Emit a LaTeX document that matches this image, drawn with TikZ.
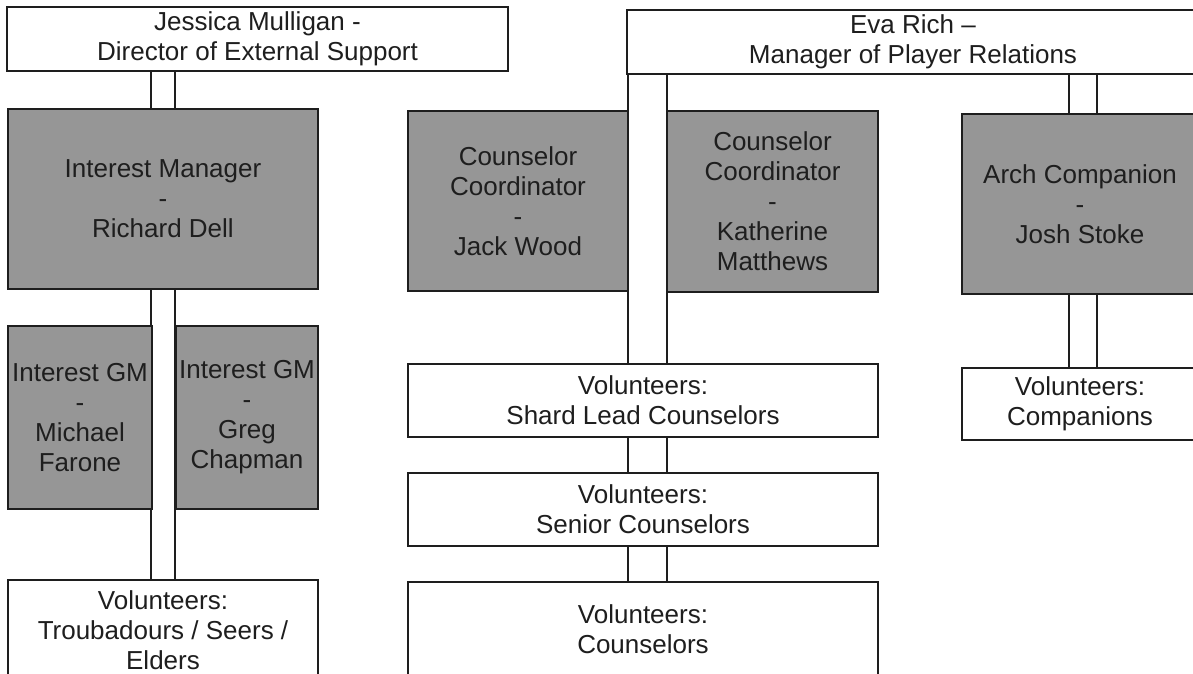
\documentclass[tikz,border=0pt]{standalone}
\usepackage{fontspec}
\setmainfont{Liberation Sans}
\usetikzlibrary{backgrounds,calc}
\definecolor{boxgray}{RGB}{150,150,150}
\definecolor{inkcol}{RGB}{30,30,30}
\tikzset{
  basebox/.style={draw=inkcol, line width=1.3pt, inner sep=0pt, align=center,
    text=inkcol, font=\fontsize{26}{30}\selectfont},
  whitebox/.style={basebox, fill=white},
  graybox/.style={basebox, fill=boxgray},
  band/.style={draw=inkcol, line width=1.2pt, double=white},
}
\begin{document}
\begin{tikzpicture}[x=1pt,y=-1pt]
\useasboundingbox (0,0) rectangle (1193,673);
% top managers
\node[whitebox, minimum width=501pt, minimum height=64pt] (jessica) at (257.5,39) {Jessica Mulligan -\\Director of External Support};
\node[whitebox, minimum width=572pt, minimum height=64pt] (eva) at (913,42) {Eva Rich \textendash\\Manager of Player Relations};
% left branch
\node[graybox, minimum width=310pt, minimum height=180pt] (im) at (163,199) {Interest Manager\\-\\Richard Dell};
\node[graybox, minimum width=144pt, minimum height=183pt] (gma) at (80,417.5) {Interest GM\\-\\Michael\\Farone};
\node[graybox, minimum width=142pt, minimum height=183pt] (gmb) at (247,417.5) {Interest GM\\-\\Greg\\Chapman};
\node[whitebox, minimum width=310pt, minimum height=100pt] (troub) at (163,630) {Volunteers:\\Troubadours / Seers /\\Elders};
% middle branch
\node[graybox, minimum width=220pt, minimum height=180pt] (jack) at (518,201) {Counselor\\Coordinator\\-\\Jack Wood};
\node[graybox, minimum width=211pt, minimum height=181pt] (kath) at (772.5,201.5) {Counselor\\Coordinator\\-\\Katherine\\Matthews};
\node[whitebox, minimum width=470pt, minimum height=73pt] (shard) at (643,400.5) {Volunteers:\\Shard Lead Counselors};
\node[whitebox, minimum width=470pt, minimum height=73pt] (senior) at (643,509.5) {Volunteers:\\Senior Counselors};
\node[whitebox, minimum width=470pt, minimum height=94pt] (couns) at (643,629) {Volunteers:\\Counselors};
% right branch
\node[graybox, minimum width=236pt, minimum height=180pt] (arch) at (1080,204) {Arch Companion\\-\\Josh Stoke};
\node[whitebox, minimum width=236pt, minimum height=72pt] (comp) at (1080,404) {Volunteers:\\Companions};
% connectors
\coordinate (mb) at ($(jack.east)!0.5!(kath.west)$);
\coordinate (rb) at ($(arch.center)+(3,0)$);
\begin{scope}[on background layer]
\draw[band, double distance=22.8pt] (im.center |- jessica.south) -- (im.center |- troub.north);
\draw[band, double distance=37.8pt] (mb |- eva.south) -- (mb |- couns.north);
\draw[band, double distance=26.8pt] (rb |- eva.south) -- (rb |- comp.north);
\end{scope}
\end{tikzpicture}
\end{document}
